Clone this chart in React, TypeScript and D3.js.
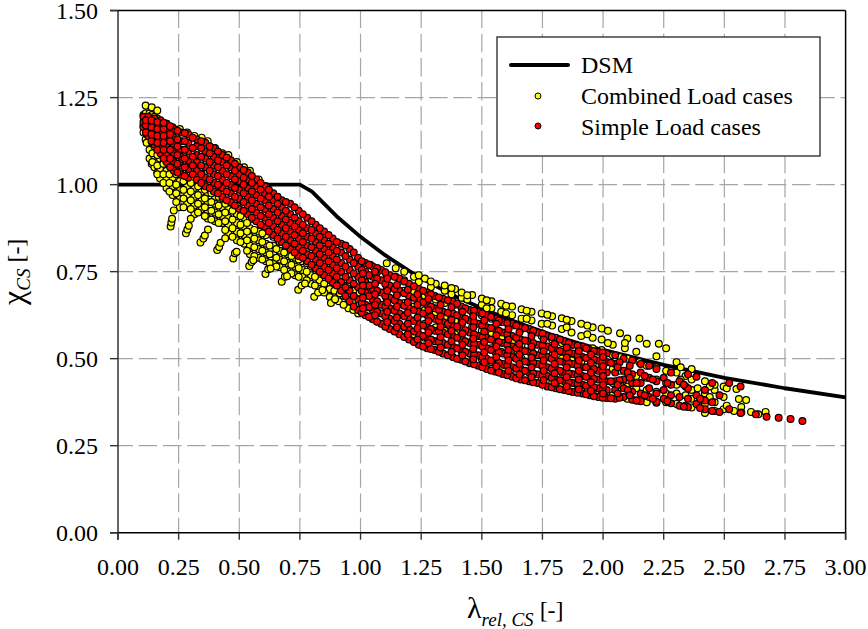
import * as d3 from 'd3';
import React from 'react';

const width = 868;
const height = 629;

// DSM design curve
const dsmX = [0, 0.75, 0.8, 0.9, 1, 1.1, 1.2, 1.3, 1.4, 1.5, 1.6, 1.7, 1.8, 1.9, 2, 2.25, 2.5, 2.75, 3];
const dsmY = [1, 1, 0.98, 0.91, 0.85, 0.798, 0.752, 0.712, 0.676, 0.645, 0.616, 0.59, 0.566, 0.544, 0.525, 0.482, 0.445, 0.415, 0.389];

const xTicks = [0, 0.25, 0.5, 0.75, 1, 1.25, 1.5, 1.75, 2, 2.25, 2.5, 2.75, 3];
const yTicks = [0, 0.25, 0.5, 0.75, 1, 1.25, 1.5];

// one column per x with its y values
const yellowCols: [number, number[]][] = [
  [0.105, [1.15, 1.17, 1.2]],
  [0.114, [1.227, 1.205, 1.13]],
  [0.13, [1.075, 1.1, 1.125, 1.15, 1.18, 1.205]],
  [0.139, [1.222, 1.2, 1.06]],
  [0.15, [1.05, 1.08, 1.11, 1.14, 1.17, 1.195]],
  [0.162, [1.213, 1.19, 1.035, 1.065]],
  [0.173, [1.018, 1.045, 1.075, 1.1, 1.13, 1.16]],
  [0.2, [0.99, 1.015, 1.04, 1.07, 1.1, 1.13, 1.175]],
  [0.225, [0.97, 0.995, 1.02, 1.05, 1.08, 1.165]],
  [0.255, [0.935, 0.96, 0.985, 1.01, 1.04, 1.07, 1.16]],
  [0.285, [0.945, 0.97, 0.995, 1.02, 1.05, 1.15]],
  [0.315, [0.915, 0.94, 0.965, 0.99, 1.015, 1.045, 1.14]],
  [0.345, [0.93, 0.955, 0.98, 1.005, 1.03, 1.135]],
  [0.37, [0.903, 0.925, 0.95, 0.975, 1.0, 1.125]],
  [0.4, [0.895, 0.92, 0.945, 0.965, 0.99, 1.105]],
  [0.43, [0.89, 0.91, 0.935, 0.96, 0.98, 1.09]],
  [0.455, [0.86, 0.885, 0.905, 0.93, 0.95, 1.085]],
  [0.49, [0.84, 0.865, 0.89, 0.915, 0.94, 1.065]],
  [0.52, [0.83, 0.855, 0.88, 0.905, 1.05]],
  [0.544, [0.8, 0.825, 0.85, 0.875, 0.9, 1.04]],
  [0.58, [0.79, 0.815, 0.84, 0.865, 1.015]],
  [0.61, [0.78, 0.805, 0.83, 0.855, 0.995]],
  [0.64, [0.775, 0.8, 0.825, 0.85]],
  [0.667, [0.763, 0.785, 0.81, 0.835]],
  [0.7, [0.75, 0.775, 0.8, 0.825]],
  [0.73, [0.74, 0.765, 0.79, 0.815]],
  [0.76, [0.735, 0.755, 0.78]],
  [0.795, [0.715, 0.74, 0.765]],
  [0.83, [0.7, 0.725, 0.75]],
  [0.873, [0.677, 0.7, 0.725]],
  [0.91, [0.665, 0.69, 0.72]],
  [0.95, [0.645, 0.67, 0.7]],
  [0.99, [0.63, 0.66, 0.69, 0.785]],
  [1.04, [0.62, 0.65, 0.68, 0.71, 0.77]],
  [1.108, [0.6, 0.635, 0.67, 0.705, 0.74, 0.774]],
  [1.18, [0.59, 0.625, 0.66, 0.695, 0.725, 0.75]],
  [1.22, [0.57, 0.61, 0.65, 0.69, 0.735]],
  [1.265, [0.56, 0.6, 0.64, 0.68, 0.73]],
  [1.31, [0.55, 0.59, 0.63, 0.67, 0.715]],
  [1.347, [0.54, 0.58, 0.62, 0.66, 0.695, 0.71]],
  [1.39, [0.53, 0.57, 0.61, 0.655, 0.7]],
  [1.417, [0.52, 0.56, 0.6, 0.645, 0.675, 0.69]],
  [1.46, [0.51, 0.55, 0.59, 0.635, 0.683]],
  [1.5, [0.5, 0.54, 0.58, 0.625, 0.655, 0.673]],
  [1.54, [0.49, 0.53, 0.57, 0.615, 0.645, 0.665]],
  [1.58, [0.48, 0.52, 0.56, 0.605, 0.635, 0.658]],
  [1.625, [0.47, 0.51, 0.55, 0.595, 0.625, 0.65]],
  [1.664, [0.46, 0.5, 0.54, 0.585, 0.615, 0.642]],
  [1.705, [0.45, 0.49, 0.53, 0.575, 0.61, 0.635]],
  [1.747, [0.44, 0.48, 0.52, 0.565, 0.6, 0.63]],
  [1.79, [0.43, 0.47, 0.51, 0.555, 0.595, 0.622]],
  [1.83, [0.42, 0.46, 0.5, 0.545, 0.585, 0.616]],
  [1.87, [0.415, 0.455, 0.495, 0.54, 0.575, 0.608]],
  [1.91, [0.41, 0.45, 0.49, 0.535, 0.565, 0.6]],
  [1.957, [0.405, 0.445, 0.485, 0.53, 0.56, 0.59]],
  [1.994, [0.4, 0.44, 0.48, 0.525, 0.555, 0.587]],
  [2.04, [0.395, 0.43, 0.47, 0.51, 0.54]],
  [2.07, [0.39, 0.425, 0.465, 0.505, 0.573]],
  [2.1, [0.385, 0.42, 0.46, 0.5, 0.558]],
  [2.137, [0.38, 0.415, 0.45, 0.52]],
  [2.15, [0.558, 0.49]],
  [2.18, [0.375, 0.41, 0.445, 0.48, 0.543]],
  [2.22, [0.373, 0.405, 0.44, 0.475, 0.507]],
  [2.23, [0.543]],
  [2.26, [0.375, 0.4, 0.43, 0.465, 0.53]],
  [2.303, [0.37, 0.4, 0.425, 0.46, 0.49]],
  [2.34, [0.365, 0.395, 0.42, 0.45]],
  [2.365, [0.36, 0.385, 0.41, 0.44, 0.47]],
  [2.42, [0.344, 0.37, 0.4, 0.435]],
  [2.46, [0.35, 0.375, 0.41, 0.425]],
  [2.497, [0.355, 0.39, 0.42]],
  [2.51, [0.415, 0.365]],
  [2.54, [0.35]],
  [2.55, [0.413]],
  [2.56, [0.384]],
  [2.57, [0.361, 0.345]],
  [2.59, [0.381]],
  [2.61, [0.347]],
  [2.64, [0.34]],
  [2.67, [0.347]],
];

// in-between yellow points, the band is denser than one set of columns
const yellowColsB: [number, number[]][] = [
  [0.118, [1.12, 1.145, 1.18]],
  [0.142, [1.065, 1.09, 1.12, 1.15]],
  [0.162, [1.03, 1.055, 1.085, 1.115]],
  [0.187, [1.005, 1.03, 1.06, 1.09]],
  [0.212, [0.98, 1.005, 1.03, 1.06]],
  [0.24, [0.95, 0.975, 1.0, 1.03]],
  [0.27, [0.935, 0.96, 0.985, 1.01]],
  [0.3, [0.93, 0.955, 0.98, 1.005]],
  [0.33, [0.92, 0.945, 0.97, 0.995]],
  [0.358, [0.91, 0.935, 0.96, 0.985]],
  [0.385, [0.9, 0.925, 0.95, 0.975]],
  [0.415, [0.89, 0.915, 0.94, 0.965]],
  [0.442, [0.87, 0.895, 0.92, 0.945]],
  [0.472, [0.85, 0.875, 0.9, 0.925]],
  [0.505, [0.835, 0.86, 0.885, 0.91]],
  [0.532, [0.81, 0.84, 0.865, 0.89]],
  [0.562, [0.795, 0.82, 0.845, 0.87]],
  [0.595, [0.785, 0.81, 0.835, 0.86]],
  [0.625, [0.775, 0.8, 0.825]],
  [0.653, [0.765, 0.79, 0.815]],
  [0.685, [0.755, 0.78, 0.805]],
  [0.715, [0.745, 0.77, 0.795]],
  [0.745, [0.735, 0.76, 0.785]],
  [0.778, [0.725, 0.75, 0.775]],
  [0.812, [0.71, 0.735, 0.76]],
  [0.85, [0.69, 0.715, 0.74]],
  [0.892, [0.67, 0.695, 0.72]],
  [0.93, [0.655, 0.68, 0.71]],
  [0.97, [0.64, 0.665, 0.695]],
  [1.07, [0.75, 0.76]],
  [1.145, [0.735, 0.76]],
  [1.24, [0.72, 0.74]],
  [1.29, [0.705, 0.722]],
  [1.375, [0.685, 0.703]],
  [1.44, [0.67, 0.682]],
  [1.52, [0.645, 0.668]],
  [1.6, [0.63, 0.652]],
  [1.685, [0.615, 0.638]],
  [1.77, [0.6, 0.626]],
  [1.85, [0.59, 0.612]],
  [1.935, [0.57, 0.595]],
  [2.02, [0.545, 0.58]],
  [2.09, [0.53, 0.545]],
  [2.32, [0.44, 0.475]],
  [2.39, [0.38, 0.415]],
  [2.44, [0.39, 0.42]],
];

// the separate little strands below the main yellow band
const yellowStrandX = [0.217, 0.22, 0.223, 0.23, 0.28, 0.286, 0.292, 0.3, 0.34, 0.352, 0.358, 0.371, 0.409, 0.417, 0.423, 0.442, 0.475, 0.482, 0.489, 0.541, 0.551, 0.558, 0.608, 0.619, 0.629, 0.675, 0.688, 0.697, 0.743, 0.757, 0.771, 0.809, 0.825, 0.843, 0.878, 0.895, 0.915];
const yellowStrandY = [0.88, 0.891, 0.902, 0.926, 0.86, 0.871, 0.882, 0.902, 0.834, 0.845, 0.854, 0.871, 0.812, 0.821, 0.833, 0.846, 0.788, 0.803, 0.807, 0.766, 0.778, 0.783, 0.743, 0.757, 0.759, 0.721, 0.735, 0.737, 0.698, 0.71, 0.716, 0.678, 0.69, 0.697, 0.66, 0.671, 0.688];

const redCols: [number, number[]][] = [
  [0.105, [1.165, 1.18, 1.195]],
  [0.125, [1.14, 1.16, 1.175, 1.195]],
  [0.15, [1.115, 1.135, 1.155, 1.175, 1.19]],
  [0.175, [1.09, 1.11, 1.13, 1.15, 1.17, 1.185]],
  [0.2, [1.065, 1.09, 1.11, 1.13, 1.15, 1.175]],
  [0.23, [1.04, 1.065, 1.09, 1.115, 1.135, 1.16]],
  [0.26, [1.03, 1.055, 1.08, 1.1, 1.125, 1.15]],
  [0.29, [1.02, 1.045, 1.07, 1.095, 1.12, 1.145]],
  [0.325, [1.015, 1.04, 1.065, 1.085, 1.11, 1.13]],
  [0.36, [0.995, 1.02, 1.05, 1.075, 1.095, 1.12]],
  [0.395, [0.98, 1.005, 1.03, 1.055, 1.08, 1.105]],
  [0.43, [0.965, 0.99, 1.015, 1.04, 1.065, 1.085]],
  [0.465, [0.95, 0.975, 1.0, 1.025, 1.05, 1.07]],
  [0.5, [0.93, 0.96, 0.985, 1.01, 1.03, 1.05]],
  [0.535, [0.915, 0.94, 0.965, 0.99, 1.015, 1.035]],
  [0.57, [0.895, 0.92, 0.945, 0.97, 0.995, 1.015]],
  [0.605, [0.88, 0.905, 0.93, 0.955, 0.975, 0.995]],
  [0.64, [0.855, 0.88, 0.905, 0.93, 0.955, 0.975]],
  [0.675, [0.835, 0.86, 0.885, 0.91, 0.935, 0.955]],
  [0.71, [0.815, 0.84, 0.865, 0.89, 0.915, 0.945]],
  [0.745, [0.795, 0.82, 0.845, 0.87, 0.895, 0.925]],
  [0.78, [0.78, 0.8, 0.825, 0.85, 0.875, 0.905]],
  [0.815, [0.76, 0.785, 0.81, 0.835, 0.86, 0.885]],
  [0.85, [0.74, 0.765, 0.79, 0.815, 0.84, 0.865]],
  [0.885, [0.72, 0.745, 0.77, 0.795, 0.82, 0.845]],
  [0.92, [0.695, 0.72, 0.75, 0.775, 0.805, 0.83]],
  [0.955, [0.665, 0.695, 0.725, 0.755, 0.785, 0.815]],
  [0.99, [0.64, 0.67, 0.705, 0.735, 0.765, 0.79]],
  [1.02, [0.625, 0.655, 0.69, 0.72, 0.75, 0.775]],
  [1.05, [0.613, 0.64, 0.67, 0.7, 0.735, 0.765]],
  [1.085, [0.6, 0.63, 0.655, 0.69, 0.725, 0.755]],
  [1.12, [0.585, 0.615, 0.645, 0.675, 0.71, 0.74]],
  [1.16, [0.57, 0.6, 0.63, 0.66, 0.695, 0.73]],
  [1.2, [0.555, 0.585, 0.615, 0.645, 0.68, 0.715]],
  [1.24, [0.54, 0.57, 0.6, 0.635, 0.67, 0.7]],
  [1.275, [0.53, 0.56, 0.59, 0.625, 0.655, 0.69]],
  [1.306, [0.525, 0.55, 0.58, 0.615, 0.645, 0.68]],
  [1.34, [0.515, 0.545, 0.575, 0.605, 0.635, 0.672]],
  [1.38, [0.505, 0.535, 0.565, 0.595, 0.63, 0.665]],
  [1.415, [0.497, 0.525, 0.555, 0.59, 0.62, 0.65]],
  [1.45, [0.487, 0.515, 0.545, 0.575, 0.61, 0.64]],
  [1.485, [0.48, 0.51, 0.54, 0.565, 0.6, 0.635]],
  [1.52, [0.47, 0.5, 0.53, 0.56, 0.59, 0.625]],
  [1.555, [0.463, 0.49, 0.52, 0.55, 0.585, 0.615]],
  [1.586, [0.456, 0.485, 0.515, 0.545, 0.575, 0.605]],
  [1.625, [0.448, 0.475, 0.505, 0.535, 0.565, 0.6]],
  [1.66, [0.44, 0.47, 0.495, 0.525, 0.555, 0.59]],
  [1.695, [0.435, 0.46, 0.49, 0.52, 0.55, 0.585]],
  [1.73, [0.43, 0.455, 0.485, 0.51, 0.54, 0.575]],
  [1.77, [0.42, 0.45, 0.475, 0.505, 0.535, 0.565]],
  [1.805, [0.415, 0.44, 0.47, 0.495, 0.525, 0.56]],
  [1.84, [0.41, 0.435, 0.46, 0.49, 0.52, 0.55]],
  [1.875, [0.404, 0.43, 0.455, 0.485, 0.515, 0.54]],
  [1.915, [0.4, 0.425, 0.45, 0.475, 0.505, 0.535]],
  [1.945, [0.395, 0.42, 0.445, 0.475, 0.5, 0.525]],
  [1.98, [0.39, 0.415, 0.44, 0.465, 0.495, 0.52]],
  [2.015, [0.387, 0.41, 0.435, 0.46, 0.49, 0.515]],
  [2.05, [0.385, 0.41, 0.435, 0.46, 0.485, 0.51]],
  [2.085, [0.39, 0.415, 0.44, 0.465, 0.5]],
  [2.12, [0.382, 0.405, 0.43, 0.455, 0.495]],
  [2.155, [0.378, 0.4, 0.43, 0.46, 0.485]],
  [2.19, [0.39, 0.415, 0.445, 0.48]],
  [2.22, [0.376, 0.4, 0.435, 0.47]],
  [2.25, [0.385, 0.41, 0.445]],
  [2.28, [0.372, 0.395, 0.425, 0.46]],
  [2.315, [0.365, 0.39, 0.435]],
  [2.35, [0.361, 0.385, 0.415, 0.455]],
  [2.385, [0.37, 0.395, 0.448]],
  [2.42, [0.355, 0.38, 0.41]],
  [2.45, [0.35, 0.375, 0.43]],
  [2.48, [0.347, 0.395]],
  [2.52, [0.355, 0.43]],
  [2.567, [0.344, 0.42]],
  [2.63, [0.34]],
  [2.674, [0.333]],
  [2.724, [0.33]],
  [2.773, [0.327]],
  [2.822, [0.321]],
];

// second set of red points, between the columns above
const redColsB: [number, number[]][] = [
  [0.115, [1.15, 1.17, 1.185]],
  [0.138, [1.125, 1.145, 1.165, 1.185]],
  [0.162, [1.1, 1.12, 1.14, 1.16, 1.18]],
  [0.188, [1.075, 1.1, 1.12, 1.14, 1.16, 1.178]],
  [0.215, [1.05, 1.075, 1.1, 1.125, 1.145, 1.168]],
  [0.245, [1.035, 1.06, 1.085, 1.11, 1.13, 1.155]],
  [0.275, [1.025, 1.05, 1.075, 1.1, 1.125, 1.148]],
  [0.308, [1.03, 1.055, 1.08, 1.105, 1.135]],
  [0.343, [1.005, 1.03, 1.055, 1.08, 1.105, 1.125]],
  [0.378, [0.99, 1.015, 1.04, 1.065, 1.09, 1.11]],
  [0.412, [0.975, 1.0, 1.025, 1.05, 1.07, 1.095]],
  [0.448, [0.955, 0.98, 1.005, 1.03, 1.055, 1.078]],
  [0.482, [0.94, 0.965, 0.99, 1.015, 1.04, 1.06]],
  [0.518, [0.925, 0.95, 0.975, 1.0, 1.02, 1.042]],
  [0.552, [0.905, 0.93, 0.955, 0.98, 1.005, 1.025]],
  [0.588, [0.885, 0.91, 0.935, 0.96, 0.985, 1.005]],
  [0.622, [0.865, 0.89, 0.915, 0.94, 0.965, 0.985]],
  [0.658, [0.845, 0.87, 0.895, 0.92, 0.945, 0.965]],
  [0.692, [0.825, 0.85, 0.875, 0.9, 0.925, 0.95]],
  [0.728, [0.805, 0.83, 0.855, 0.88, 0.905, 0.935]],
  [0.762, [0.79, 0.81, 0.835, 0.86, 0.885, 0.915]],
  [0.798, [0.77, 0.795, 0.82, 0.845, 0.87, 0.895]],
  [0.832, [0.75, 0.775, 0.8, 0.825, 0.85, 0.875]],
  [0.868, [0.73, 0.755, 0.78, 0.805, 0.83, 0.855]],
  [0.902, [0.71, 0.735, 0.76, 0.785, 0.81, 0.835]],
  [0.938, [0.68, 0.705, 0.735, 0.765, 0.795, 0.825]],
  [0.972, [0.65, 0.68, 0.715, 0.745, 0.775, 0.805]],
  [1.005, [0.632, 0.66, 0.695, 0.725, 0.755, 0.78]],
  [1.035, [0.62, 0.648, 0.68, 0.71, 0.74, 0.77]],
  [1.068, [0.606, 0.635, 0.665, 0.695, 0.73, 0.76]],
  [1.102, [0.592, 0.622, 0.65, 0.68, 0.715, 0.748]],
  [1.14, [0.578, 0.608, 0.638, 0.668, 0.7, 0.735]],
  [1.18, [0.562, 0.592, 0.622, 0.652, 0.688, 0.722]],
  [1.22, [0.548, 0.578, 0.608, 0.64, 0.675, 0.708]],
  [1.258, [0.535, 0.565, 0.595, 0.63, 0.662, 0.695]],
  [1.29, [0.528, 0.555, 0.585, 0.62, 0.65, 0.685]],
  [1.323, [0.52, 0.548, 0.578, 0.61, 0.64, 0.676]],
  [1.36, [0.51, 0.54, 0.57, 0.6, 0.632, 0.668]],
  [1.398, [0.5, 0.53, 0.56, 0.592, 0.625, 0.658]],
  [1.432, [0.492, 0.52, 0.55, 0.582, 0.615, 0.645]],
  [1.468, [0.484, 0.512, 0.542, 0.57, 0.605, 0.638]],
  [1.502, [0.475, 0.505, 0.535, 0.562, 0.595, 0.63]],
  [1.538, [0.466, 0.495, 0.525, 0.555, 0.588, 0.62]],
  [1.57, [0.46, 0.488, 0.518, 0.548, 0.58, 0.61]],
  [1.605, [0.452, 0.48, 0.51, 0.54, 0.57, 0.602]],
  [1.642, [0.444, 0.472, 0.5, 0.53, 0.56, 0.595]],
  [1.678, [0.438, 0.465, 0.492, 0.522, 0.552, 0.588]],
  [1.712, [0.432, 0.458, 0.488, 0.515, 0.545, 0.58]],
  [1.75, [0.425, 0.452, 0.48, 0.508, 0.538, 0.572]],
  [1.788, [0.418, 0.445, 0.472, 0.5, 0.53, 0.562]],
  [1.822, [0.412, 0.438, 0.465, 0.492, 0.522, 0.555]],
  [1.858, [0.407, 0.432, 0.458, 0.488, 0.518, 0.545]],
  [1.895, [0.402, 0.428, 0.452, 0.48, 0.51, 0.538]],
  [1.93, [0.398, 0.422, 0.448, 0.475, 0.502, 0.53]],
  [1.962, [0.392, 0.418, 0.442, 0.47, 0.498, 0.522]],
  [1.998, [0.388, 0.412, 0.438, 0.462, 0.492, 0.518]],
  [2.032, [0.386, 0.435, 0.488]],
  [2.068, [0.388, 0.438, 0.49]],
  [2.102, [0.41, 0.46]],
  [2.138, [0.38, 0.43]],
  [2.172, [0.395, 0.45]],
  [2.205, [0.385, 0.44]],
  [2.265, [0.378, 0.43]],
  [2.333, [0.362, 0.425]],
  [2.4, [0.358, 0.385]],
];

// third red set, in the middle of the band past x = 1
const redColsC: [number, number[]][] = [
  [1.01, [0.645, 0.675, 0.71, 0.745]],
  [1.06, [0.625, 0.655, 0.685, 0.715, 0.75]],
  [1.11, [0.605, 0.635, 0.662, 0.695, 0.73]],
  [1.15, [0.59, 0.618, 0.65, 0.682, 0.712]],
  [1.195, [0.57, 0.6, 0.632, 0.662, 0.698]],
  [1.235, [0.555, 0.587, 0.618, 0.655, 0.685]],
  [1.28, [0.545, 0.575, 0.608, 0.64, 0.672]],
  [1.33, [0.532, 0.562, 0.592, 0.622, 0.655]],
  [1.375, [0.52, 0.55, 0.58, 0.612, 0.648]],
  [1.42, [0.51, 0.54, 0.572, 0.604, 0.635]],
  [1.465, [0.498, 0.528, 0.558, 0.59, 0.622]],
  [1.51, [0.49, 0.518, 0.548, 0.578, 0.61]],
  [1.56, [0.478, 0.505, 0.535, 0.567, 0.6]],
  [1.61, [0.465, 0.495, 0.525, 0.555, 0.585]],
  [1.655, [0.455, 0.485, 0.512, 0.542, 0.575]],
  [1.705, [0.447, 0.475, 0.503, 0.535, 0.565]],
  [1.755, [0.438, 0.465, 0.495, 0.522, 0.555]],
  [1.8, [0.43, 0.458, 0.485, 0.512, 0.542]],
  [1.85, [0.42, 0.447, 0.475, 0.503, 0.532]],
  [1.9, [0.412, 0.44, 0.465, 0.495, 0.522]],
  [1.95, [0.408, 0.432, 0.46, 0.488, 0.512]],
  [2.0, [0.4, 0.425, 0.45, 0.478, 0.505]],
  [2.06, [0.4, 0.425, 0.475]],
  [2.11, [0.395, 0.445, 0.48]],
];

const legendRows = ['DSM', 'Combined Load cases', 'Simple Load cases'];

const x = d3.scaleLinear().domain([0, 3]).range([118, 845.6]);
const y = d3.scaleLinear().domain([0, 1.5]).range([532.7, 10.6]);
const fmt = d3.format('.2f');
const font = '"Liberation Serif", "Times New Roman", serif';

const flatten = (cols: [number, number[]][]) => cols.flatMap(([cx, ys]) => ys.map(v => [cx, v] as [number, number]));
const yellowPts = [...flatten(yellowCols), ...flatten(yellowColsB), ...yellowStrandX.map((v, i) => [v, yellowStrandY[i]] as [number, number])];
const redPts = [...flatten(redCols), ...flatten(redColsB), ...flatten(redColsC)];

const dsmLine = d3.line<number>().x(d => x(d)).y((d, i) => y(dsmY[i]))(dsmX) as string;

export default function App() {
  return (
    <svg width={width} height={height} style={{ position: 'absolute', left: 0, top: 0, background: '#fff' }} fontFamily={font} fill="#000">
      {/* grid */}
      {xTicks.slice(1, -1).map(t => (
        <line key={t} x1={x(t)} x2={x(t)} y1={y(0)} y2={y(1.5)} stroke="#a6a6a6" strokeWidth={1.2} strokeDasharray="18.5 5.7" strokeDashoffset={3.5} />
      ))}
      {yTicks.slice(1, -1).map(t => (
        <line key={t} x1={x(0)} x2={x(3)} y1={y(t)} y2={y(t)} stroke="#a6a6a6" strokeWidth={1.2} strokeDasharray="18.5 5.7" strokeDashoffset={3.5} />
      ))}

      <path d={dsmLine} fill="none" stroke="#000" strokeWidth={3.8} strokeLinejoin="round" />

      {/* points */}
      <g stroke="#000" strokeWidth={1.2}>
        {yellowPts.map((p, i) => <circle key={i} cx={x(p[0])} cy={y(p[1])} r={3.4} fill="#ffff00" />)}
        {redPts.map((p, i) => <circle key={i} cx={x(p[0])} cy={y(p[1])} r={3.4} fill="#ff0000" />)}
      </g>

      {/* axes */}
      <line x1={x(0)} x2={x(0)} y1={y(1.5)} y2={y(0) + 7} stroke="#333" strokeWidth={1.5} />
      <line x1={x(3)} x2={x(3)} y1={y(1.5)} y2={y(0) + 7} stroke="#000" strokeWidth={1.5} />
      <line x1={x(0) - 8} x2={x(3)} y1={y(0)} y2={y(0)} stroke="#000" strokeWidth={1.5} />
      <line x1={x(0) - 8} x2={x(3)} y1={y(1.5)} y2={y(1.5)} stroke="#000" strokeWidth={1.5} />
      {xTicks.map(t => (
        <g key={t}>
          <line x1={x(t)} x2={x(t)} y1={y(0)} y2={y(0) + 7} stroke="#333" strokeWidth={1.4} />
          <text x={x(t)} y={575} textAnchor="middle" fontSize={24}>{fmt(t)}</text>
        </g>
      ))}
      {yTicks.map(t => (
        <g key={t}>
          <line x1={x(0) - 8} x2={x(0)} y1={y(t)} y2={y(t)} stroke="#333" strokeWidth={1.4} />
          <text x={98} y={y(t) + 8.3} textAnchor="end" fontSize={24}>{fmt(t)}</text>
        </g>
      ))}

      {/* axis titles */}
      <text transform="translate(24,305) rotate(-90)" fontSize={32}>
        χ<tspan fontSize={19} fontStyle="italic" dy={6}>CS</tspan><tspan dy={-6} fontSize={24}> [-]</tspan>
      </text>
      <text x={467} y={618} fontSize={30}>
        λ<tspan fontSize={19} fontStyle="italic" dy={8}>rel, CS</tspan><tspan dy={-8} fontSize={24}> [-]</tspan>
      </text>

      {/* legend */}
      <rect x={497} y={37} width={323} height={119} fill="#fff" stroke="#333" strokeWidth={1.4} />
      <line x1={511} x2={568} y1={65} y2={65} stroke="#000" strokeWidth={4} strokeLinecap="round" />
      <circle cx={538} cy={96} r={3} fill="#ffff00" stroke="#000" />
      <circle cx={538} cy={126} r={3} fill="#ff0000" stroke="#000" />
      {legendRows.map((t, i) => (
        <text key={t} x={581} y={73 + i * 31} fontSize={24}>{t}</text>
      ))}
    </svg>
  );
}
